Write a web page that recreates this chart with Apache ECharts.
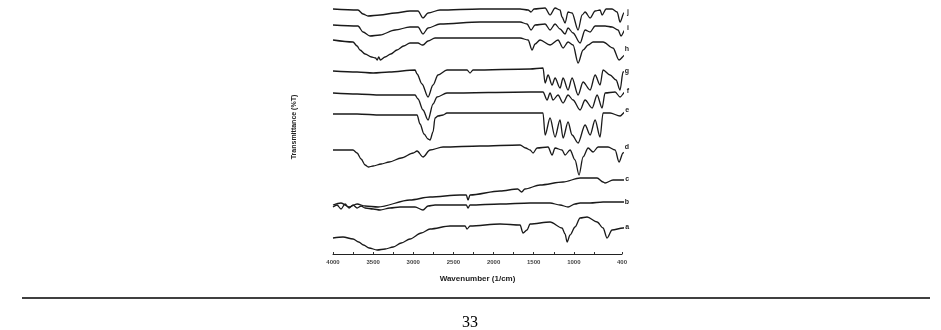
<!DOCTYPE html>
<html>
<head>
<meta charset="utf-8">
<script src="https://cdn.jsdelivr.net/npm/echarts@6/dist/echarts.min.js"></script>
<style>
  html, body { margin: 0; padding: 0; background: #fff; }
  #chart { width: 941px; height: 330px; }
</style>
</head>
<body>
<div id="chart"></div>
<script>
// FTIR spectra, stacked with offsets: [wavenumber (1/cm), offset transmittance]
const traceNames = ['j', 'i', 'h', 'g', 'f', 'e', 'd', 'c', 'b', 'a'];

const traceJ = [[4000,245],[3689,244],[3626,240],[3564,238],[3414,239],[3227,241],[3041,243],[2941,243],[2879,236],[2816,241],[2667,244],[2168,245],[1670,245],[1570,244],[1533,242],[1496,245],[1358,246],[1296,239],[1234,246],[1172,244],[1147,237],[1109,231],[1072,242],[1022,241],[947,224],[897,239],[860,242],[797,236],[735,243],[673,244],[648,239],[598,245],[524,245],[461,242],[424,232],[375,241],[299,243],[275,242]];
const traceI = [[4000,229],[3689,228],[3626,222],[3539,218],[3414,219],[3227,224],[3041,227],[2941,227],[2879,220],[2816,226],[2667,230],[2168,232],[1670,232],[1583,230],[1533,224],[1483,229],[1358,230],[1296,224],[1234,230],[1172,225],[1109,220],[1072,226],[1010,221],[922,211],[860,224],[797,222],[735,228],[611,228],[524,227],[449,224],[412,218],[362,224],[299,226],[275,226]];
const traceH = [[4000,214],[3751,212],[3700,208],[3664,204],[3600,200],[3520,197],[3470,196],[3450,194],[3430,197],[3410,194],[3352,197],[3280,200],[3203,204],[3120,208],[3041,211],[2941,211],[2891,209],[2879,209],[2816,213],[2729,216],[2168,216],[1670,216],[1570,214],[1520,204],[1483,210],[1421,214],[1296,209],[1197,214],[1134,206],[1072,212],[1010,209],[947,191],[885,204],[822,209],[760,212],[636,212],[512,206],[437,194],[362,199],[299,205],[275,205]];
const traceG = [[4000,183],[3700,182],[3500,181],[3300,182],[2978,184],[2953,180],[2891,170],[2816,157],[2754,169],[2692,179],[2580,184],[2330,184],[2293,181],[2256,184],[1545,185],[1384,186],[1358,171],[1321,179],[1271,169],[1234,176],[1172,166],[1134,176],[1072,164],[1022,176],[947,159],[885,172],[797,164],[735,179],[673,169],[636,184],[549,179],[474,174],[424,164],[387,182],[299,183],[275,183]];
const traceF = [[4000,161],[3700,160],[3400,159],[3165,159],[2978,159],[2941,155],[2879,144],[2816,134],[2754,150],[2704,157],[2580,161],[1545,162],[1384,162],[1333,154],[1296,161],[1259,154],[1197,159],[1134,151],[1072,159],[1010,154],[922,144],[860,154],[772,146],[710,159],[648,146],[611,161],[486,162],[424,157],[362,162],[299,163],[275,163]];
const traceE = [[4000,140],[3700,140],[3400,139],[3165,139],[2953,139],[2916,130],[2866,120],[2816,115],[2791,114],[2754,122],[2729,136],[2692,138],[2629,139],[2580,141],[1545,141],[1384,141],[1358,119],[1296,136],[1234,117],[1172,134],[1134,116],[1072,132],[1022,119],[947,111],[860,129],[797,119],[735,134],[673,117],[636,141],[549,141],[424,138],[362,142],[299,144],[275,144]];
const traceD = [[4000,104],[3751,104],[3700,101],[3650,95],[3600,89],[3560,87],[3500,88],[3400,90],[3300,92],[3150,96],[3000,101],[2953,103],[2879,97],[2791,104],[2629,107],[2168,108],[1670,109],[1600,106],[1545,104],[1508,101],[1458,106],[1321,107],[1271,99],[1234,106],[1147,104],[1109,99],[1047,104],[985,94],[935,79],[885,97],[822,106],[760,102],[698,107],[574,107],[486,104],[437,92],[387,101],[299,107],[275,107]];
const traceC = [[4000,49],[3900,51],[3800,47],[3700,50],[3600,48],[3439,47],[3041,54],[2791,57],[2418,59],[2340,59],[2318,54],[2293,59],[1919,63],[1700,65],[1650,62],[1610,65],[1421,69],[1134,72],[922,76],[710,76],[636,72],[611,71],[512,74],[337,74],[275,75]];
const traceB = [[4000,47],[3950,49],[3900,45],[3850,50],[3800,46],[3750,49],[3700,46],[3650,48],[3600,46],[3500,45],[3414,44],[3290,46],[3165,47],[2978,47],[2879,44],[2816,48],[2729,49],[2418,49],[2340,49],[2318,46],[2293,49],[1919,50],[1545,51],[1421,51],[1296,51],[1172,49],[1072,47],[985,50],[922,51],[797,51],[636,52],[486,52],[275,52]];
const traceA = [[4000,16],[3875,17],[3750,15],[3680,12],[3620,9],[3550,6],[3450,4],[3350,5],[3250,7],[3150,11],[3041,15],[2900,21],[2791,25],[2542,28],[2355,28],[2330,25],[2293,28],[1919,30],[1670,29],[1633,21],[1583,24],[1545,30],[1296,32],[1147,26],[1109,20],[1084,12],[1047,19],[985,27],[922,36],[835,37],[710,32],[636,26],[586,16],[524,24],[387,26],[299,29],[275,27]];

const traces = [traceJ, traceI, traceH, traceG, traceF, traceE, traceD, traceC, traceB, traceA];

const majorTicks = [4000, 3500, 3000, 2500, 2000, 1500, 1000, 400];
const allTicks = [4000, 3750, 3500, 3250, 3000, 2750, 2500, 2250, 2000, 1750, 1500, 1250, 1000, 750, 400];

const chart = echarts.init(document.getElementById('chart'));

const series = traces.map((data, k) => ({
  name: traceNames[k],
  type: 'line',
  data: data,
  showSymbol: false,
  clip: false,
  smooth: 0.3,
  smoothMonotone: 'x',
  lineStyle: { color: '#1a1a1a', width: 1.3 },
  endLabel: {
    show: true,
    formatter: '{a}',
    distance: 3,
    fontSize: 7,
    fontWeight: 'bold',
    color: '#222',
    fontFamily: 'Liberation Sans'
  }
}));

chart.setOption({
  animation: false,
  backgroundColor: '#fff',
  grid: { left: 333, right: 319, top: 0, bottom: 76 },
  xAxis: {
    type: 'value',
    inverse: true,
    min: 400,
    max: 4000,
    name: 'Wavenumber (1/cm)',
    nameLocation: 'middle',
    nameGap: 21,
    nameTextStyle: { fontSize: 8, fontWeight: 'bold', color: '#222', fontFamily: 'Liberation Sans' },
    axisLine: { lineStyle: { color: '#222', width: 1 } },
    axisTick: { inside: true, length: 2, customValues: allTicks, lineStyle: { color: '#333' } },
    axisLabel: {
      customValues: majorTicks,
      formatter: v => String(v),
      fontSize: 6,
      fontWeight: 'bold',
      color: '#444',
      margin: 5,
      fontFamily: 'Liberation Sans'
    },
    splitLine: { show: false }
  },
  yAxis: {
    type: 'value',
    min: 0,
    max: 254,
    name: 'Transmittance (%T)',
    nameLocation: 'middle',
    nameRotate: 90,
    nameGap: 35,
    nameTextStyle: { fontSize: 7, fontWeight: 'bold', color: '#222', fontFamily: 'Liberation Sans' },
    axisLine: { show: false },
    axisTick: { show: false },
    axisLabel: { show: false },
    splitLine: { show: false }
  },
  graphic: [
    {
      type: 'line',
      shape: { x1: 22, y1: 298, x2: 930, y2: 298 },
      style: { stroke: '#000', lineWidth: 1.5 }
    },
    {
      type: 'text',
      x: 470,
      y: 315,
      style: { text: '33', font: '16px "Liberation Serif"', fill: '#000', textAlign: 'center' }
    }
  ],
  series: series
});
</script>
</body>
</html>
